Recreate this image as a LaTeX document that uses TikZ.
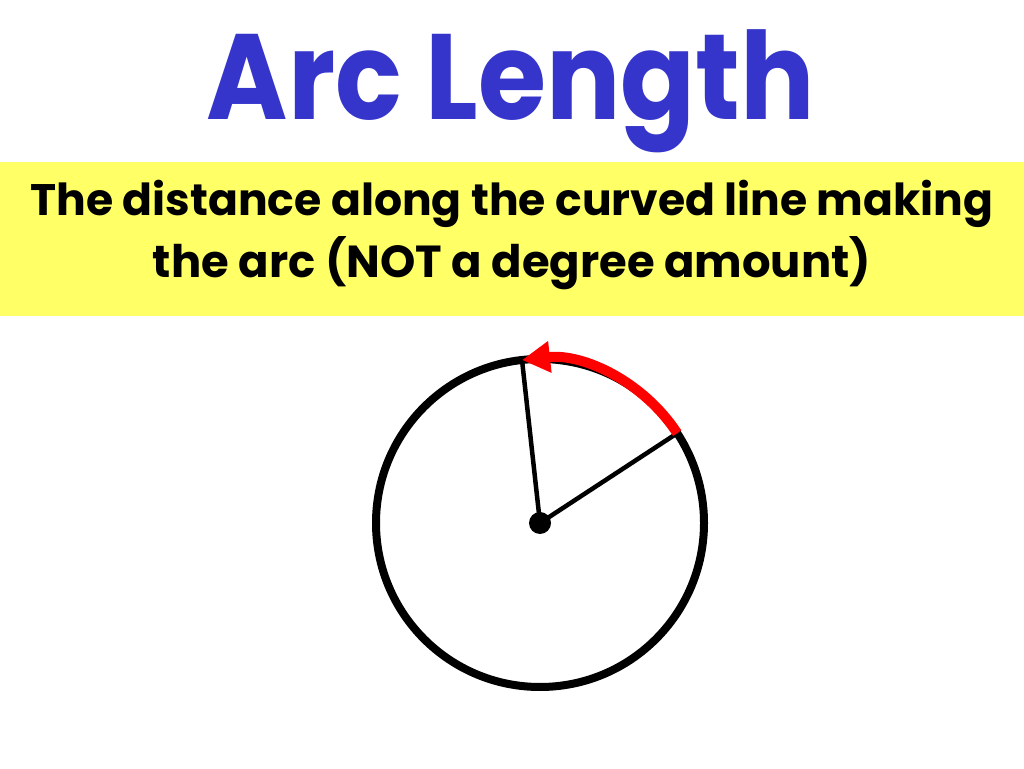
\documentclass[tikz,border=0pt]{standalone}
\usepackage{fontspec}
\setmainfont{Poppins}
\usetikzlibrary{arrows.meta,calc}
\definecolor{titleblue}{HTML}{3535CC}
\definecolor{bandyellow}{HTML}{FFFF66}
\begin{document}
\begin{tikzpicture}[x=1pt,y=1pt,
  titlestyle/.style={text=titleblue,font=\bfseries\fontsize{120}{120}\selectfont,inner sep=0pt,anchor=base},
  bandtext/.style={font=\bfseries\fontsize{40}{40}\selectfont,inner sep=0pt,anchor=base},
  radius line/.style={line width=4.5pt,black},
  rim/.style={line width=8pt,black},
  arcmark/.style={line width=10pt,red,-{Triangle[length=28pt,width=30pt]}}]
\useasboundingbox (0,0) rectangle (1024,768);
\fill[white] (0,0) rectangle (1024,768);
\fill[bandyellow] (0,452) rectangle (1024,606);
\node[titlestyle] (title) at (511,648) {\scalebox{1}[1.1]{\resizebox{608pt}{!}{Arc Length}}};
\node[bandtext] (line1) at (512,552) {\resizebox{963pt}{!}{The distance along the curved line making}};
\node[bandtext] (line2) at (512,490) {\resizebox{718pt}{!}{the arc (NOT a degree amount)}};
\coordinate (O) at (540,245);
\draw[rim] (O) circle (164);
\coordinate (A) at ($(O)+(33.2:164)$);
\coordinate (B) at ($(O)+(96.3:164)$);
\draw[radius line] (O) -- (A);
\draw[radius line] (O) -- (B);
\draw[arcmark] (A) arc[start angle=33.2,end angle=96.3,radius=164];
\fill[black] (O) circle (11);
\end{tikzpicture}
\end{document}
